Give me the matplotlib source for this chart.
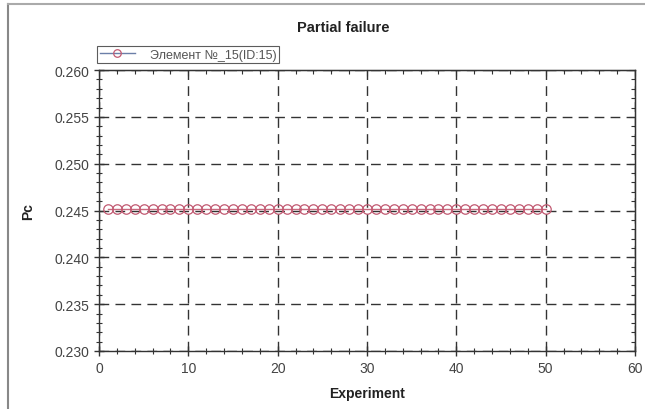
import matplotlib
matplotlib.use("Agg")
import matplotlib.pyplot as plt
from matplotlib.lines import Line2D
import numpy as np

plt.rcParams['font.family'] = ['Liberation Sans', 'DejaVu Sans']

# data
experiment = list(range(1, 51))
pc = [0.2452] * 50
series_label = 'Элемент №_15(ID:15)'

fig = plt.figure(figsize=(6.45, 4.10), dpi=100)
ax = fig.add_axes([0.1535, 0.1415, 0.831, 0.685])

ax.plot(experiment, pc, color='#c8697e', lw=1.0, marker='o', ms=6.8,
        mfc='none', mec='#c25a72', mew=0.9, label=series_label)

ax.set_xlim(0, 60)
ax.set_ylim(0.230, 0.260)
ax.set_xticks(np.arange(0, 61, 10))
ax.set_yticks(np.arange(0.230, 0.2601, 0.005))
ax.set_yticklabels(['%.3f' % v for v in np.arange(0.230, 0.2601, 0.005)])
ax.xaxis.set_minor_locator(plt.MultipleLocator(2))
ax.yaxis.set_minor_locator(plt.MultipleLocator(0.001))
ax.tick_params(which='both', direction='inout', colors='#333333',
               labelcolor='#444444', labelsize=10)
ax.tick_params(which='major', length=7, width=1)
ax.tick_params(which='minor', length=4, width=0.8)
for s in ax.spines.values():
    s.set_color('#333333')
    s.set_linewidth(1.0)

# inner ticks on top and right
top = ax.secondary_xaxis('top')
top.set_xticks(np.arange(0, 61, 10))
top.xaxis.set_minor_locator(plt.MultipleLocator(2))
top.tick_params(which='both', direction='in', labeltop=False, colors='#333333')
top.tick_params(which='major', length=4)
top.tick_params(which='minor', length=3, width=0.8)
right = ax.secondary_yaxis('right')
right.set_yticks(np.arange(0.230, 0.2601, 0.005))
right.yaxis.set_minor_locator(plt.MultipleLocator(0.001))
right.tick_params(which='both', direction='in', labelright=False, colors='#333333')
right.tick_params(which='major', length=4)
right.tick_params(which='minor', length=3, width=0.8)

ax.grid(which='major', color='#333333', ls=(0, (7, 4.5)), lw=1.0)

ax.set_xlabel('Experiment', fontweight='bold', fontsize=10, color='#222222', labelpad=8)
ax.set_ylabel('Pc', fontweight='bold', fontsize=10, color='#222222', labelpad=14)
fig.text(343/645, 1 - 28/410, 'Partial failure', fontweight='bold', fontsize=10.5,
         color='#222222', ha='center', va='center')

leg = ax.legend(loc='lower left', bbox_to_anchor=(-0.003, 1.025), fontsize=9,
                frameon=True, fancybox=False, borderpad=0.2, handlelength=2.8,
                borderaxespad=0.0, handletextpad=1.2, markerscale=0.8)
leg.get_frame().set_edgecolor('#333333')
leg.get_frame().set_linewidth(0.8)
leg.get_lines()[0].set_color('#6b7fa8')
for t in leg.get_texts():
    t.set_color('#555555')

# window frame of the screenshot
fig.add_artist(Line2D([8/645, 8/645], [0, 1 - 5/410], color='#888888', lw=1.5, transform=fig.transFigure))
fig.add_artist(Line2D([8/645, 1], [1 - 5/410, 1 - 5/410], color='#aaaaaa', lw=1.5, transform=fig.transFigure))

plt.savefig('out.png', dpi=100)
